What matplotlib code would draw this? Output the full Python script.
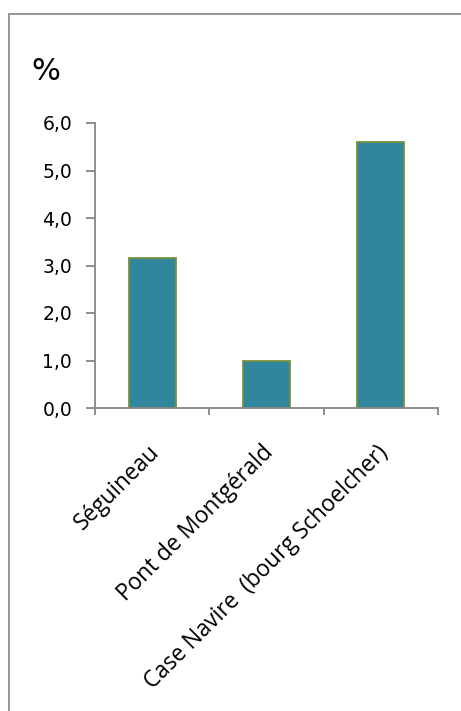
import matplotlib
matplotlib.use("Agg")
import matplotlib.pyplot as plt
from matplotlib.patches import Rectangle
from matplotlib.ticker import FixedLocator
from matplotlib.transforms import ScaledTranslation

plt.rcParams['font.family'] = ['Open Sans', 'DejaVu Sans']

# Data
sites = ["Séguineau", "Pont de Montgérald", "Case Navire  (bourg Schoelcher)"]
values = [3.15, 1.0, 5.6]
yticks = [0, 1, 2, 3, 4, 5, 6]
ytick_labels = ["0,0", "1,0", "2,0", "3,0", "4,0", "5,0", "6,0"]

bar_color = "#31859C"
edge_color = "#77933C"
axis_color = "#868686"

fig = plt.figure(figsize=(4.61, 7.11), dpi=100)
W, H = 461, 711

# Chart area border (left and top edges visible)
fig.patches.append(Rectangle((8.5 / W, -0.1), 1.2, 1.1 - 14.5 / H,
                             transform=fig.transFigure, fill=False,
                             edgecolor="#8c8c8c", linewidth=1.3))

ax = fig.add_axes([95 / W, 1 - 408 / H, (438 - 95) / W, (408 - 123) / H])

x = list(range(len(sites)))
ax.bar(x, values, width=0.41, color=bar_color, edgecolor=edge_color,
       linewidth=1.3, zorder=2)

ax.set_xlim(-0.5, len(sites) - 0.5)
ax.set_ylim(0, 6)

for s in ("top", "right"):
    ax.spines[s].set_visible(False)
for s in ("left", "bottom"):
    ax.spines[s].set_color(axis_color)
    ax.spines[s].set_linewidth(1.3)

ax.set_yticks(yticks)
ax.set_yticklabels(ytick_labels, fontfamily="DejaVu Sans")
ax.tick_params(axis="y", direction="out", length=6.5, width=1.3,
               color=axis_color, labelsize=13.5, pad=10, labelcolor="black")

ax.set_xticks(x)
ax.set_xticklabels(sites, rotation=45, ha="right", rotation_mode="anchor",
                   fontsize=16.3)
ax.tick_params(axis="x", which="major", length=0, pad=14)
ax.xaxis.set_minor_locator(FixedLocator([-0.5, 0.5, 1.5, 2.5]))
ax.tick_params(axis="x", which="minor", direction="out", length=5, width=1.3,
               color=axis_color)

# nudge the rotated category labels down and slightly left
shift = ScaledTranslation(-5 / 100, -13 / 100, fig.dpi_scale_trans)
for lab in ax.get_xticklabels():
    lab.set_transform(lab.get_transform() + shift)

fig.text(31 / W, 1 - 80 / H, "%", fontsize=22, ha="left", va="baseline",
         fontfamily="DejaVu Sans")

fig.savefig("out.png", dpi=100, facecolor="white")
